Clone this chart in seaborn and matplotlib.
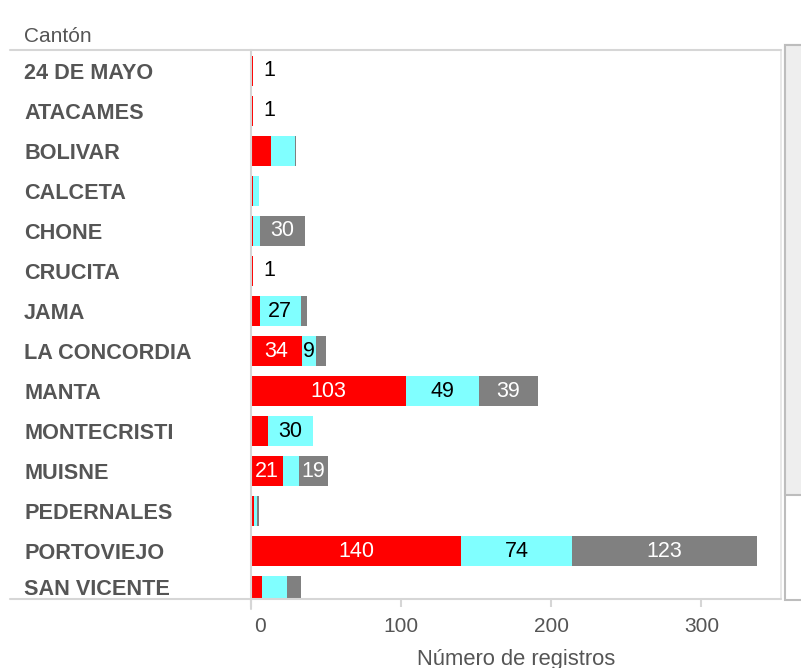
import matplotlib
matplotlib.use("Agg")
import matplotlib.pyplot as plt
import matplotlib.transforms as mtransforms
from matplotlib.lines import Line2D
from matplotlib.patches import Rectangle
import seaborn as sns
import pandas as pd
import numpy as np

categories = ["24 DE MAYO", "ATACAMES", "BOLIVAR", "CALCETA", "CHONE", "CRUCITA",
              "JAMA", "LA CONCORDIA", "MANTA", "MONTECRISTI", "MUISNE",
              "PEDERNALES", "PORTOVIEJO", "SAN VICENTE"]
red_vals = [1, 1, 13, 1, 1, 1, 6, 34, 103, 11, 21, 2, 140, 7]
cyan_vals = [0, 0, 16, 4, 5, 0, 27, 9, 49, 30, 11, 2, 74, 17]
gray_vals = [0, 0, 1, 0, 30, 0, 4, 7, 39, 0, 19, 1, 123, 9]
# which segment labels are shown in the reference
red_lbl = [1, 1, 0, 0, 0, 1, 0, 1, 1, 0, 1, 0, 1, 0]
cyan_lbl = [0, 0, 0, 0, 0, 0, 1, 1, 1, 1, 0, 0, 1, 0]
gray_lbl = [0, 0, 0, 0, 1, 0, 0, 0, 1, 0, 1, 0, 1, 0]
x_ticks = [0, 100, 200, 300]

RED = "#FF0000"
CYAN = "#80FFFF"
GRAY = "#808080"
TXT = "#555555"
LINE = "#d6d6d6"

sns.set_theme(style="white")
plt.rcParams["font.family"] = ["Liberation Sans", "DejaVu Sans"]

W, H = 801, 668
fig = plt.figure(figsize=(W / 100, H / 100), dpi=100)
L, R, T, B = 251, 781, 50, 599
ax = fig.add_axes([L / W, 1 - B / H, (R - L) / W, (B - T) / H])

df = pd.DataFrame({"Cantón": categories,
                   "red": red_vals, "cyan": cyan_vals, "gray": gray_vals})
df["rc"] = df["red"] + df["cyan"]
df["total"] = df["rc"] + df["gray"]

for col, c in [("total", GRAY), ("rc", CYAN), ("red", RED)]:
    sns.barplot(data=df, x=col, y="Cantón", color=c, saturation=1,
                width=0.75, orient="h", errorbar=None, linewidth=0, ax=ax)

# segment labels
for i, cat in enumerate(categories):
    starts = [0, red_vals[i], red_vals[i] + cyan_vals[i]]
    segs = [(red_vals[i], red_lbl[i], "white"),
            (cyan_vals[i], cyan_lbl[i], "black"),
            (gray_vals[i], gray_lbl[i], "white")]
    for (v, show, tc), s in zip(segs, starts):
        if not show:
            continue
        if v < 5:
            ax.text(s + v + 7, i, str(v), ha="left", va="center",
                    fontsize=15.5, color="black")
        else:
            ax.text(s + v / 2, i, str(v), ha="center", va="center",
                    fontsize=15.5, color=tc)

ax.set_xlim(0, 353)
ax.set_ylim(13.2, -0.525)
ax.set_xlabel("Número de registros", fontsize=15.8, color=TXT, labelpad=9)
ax.set_ylabel("")

ytick_pos = list(range(13)) + [12.9]
ax.set_yticks(ytick_pos)
ax.set_yticklabels(categories, fontsize=15.6, fontweight="bold", color=TXT, ha="left")
ax.tick_params(axis="y", length=0, pad=(L - 24) * 0.72)

ax.set_xticks(x_ticks)
ax.set_xticklabels([str(t) for t in x_ticks], fontsize=15, color=TXT)
ax.tick_params(axis="x", length=6, width=1.5, color=LINE, pad=7, bottom=True)
lbl0 = ax.get_xticklabels()[0]
lbl0.set_transform(lbl0.get_transform() +
                   mtransforms.ScaledTranslation(0.09, 0, fig.dpi_scale_trans))

for sp in ["top", "bottom"]:
    ax.spines[sp].set_visible(False)
ax.spines["left"].set_color(LINE)
ax.spines["left"].set_linewidth(1.5)
ax.spines["right"].set_color("#e4e4e4")
ax.spines["right"].set_linewidth(1.2)

def fx(px):
    return px / W

def fy(py):
    return 1 - py / H

# header and bottom separators
fig.add_artist(Line2D([fx(10), fx(R)], [fy(T), fy(T)], color=LINE, lw=1.5))
fig.add_artist(Line2D([fx(10), fx(R)], [fy(B), fy(B)], color=LINE, lw=1.5))
fig.add_artist(Line2D([fx(L), fx(L)], [fy(B), fy(609)], color=LINE, lw=1.5))

fig.text(fx(24), fy(37), "Cantón", fontsize=15, color=TXT, ha="left", va="center")

# scrollbar
fig.add_artist(Rectangle((fx(785), fy(600)), fx(20), fy(45) - fy(600),
                         facecolor="white", edgecolor="#bdbdbd", lw=1.5))
fig.add_artist(Rectangle((fx(785), fy(495)), fx(20), fy(45) - fy(495),
                         facecolor="#eeeeee", edgecolor="#bdbdbd", lw=1.5))

fig.savefig("out.png", dpi=100)
